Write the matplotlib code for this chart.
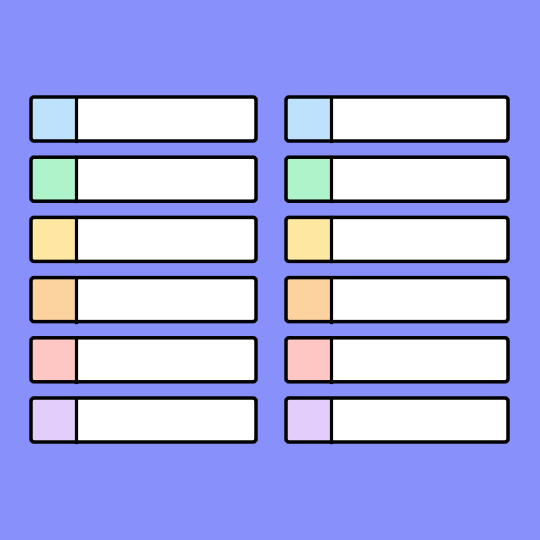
import matplotlib
matplotlib.use("Agg")
import matplotlib.pyplot as plt
from matplotlib.patches import FancyBboxPatch, Rectangle

rows = ["blue", "green", "yellow", "orange", "red", "purple"]
swatch_colors = ["#BEE1FC", "#AEF3C9", "#FEE8A1", "#FCD39F", "#FEC7C4", "#E3CDFB"]
columns = ["left", "right"]

BG = "#8891FB"
col_x = [31, 286]
col_w = [225, 222]
row_y0, row_step, row_h = 97, 60.2, 44
sw_w = 45

fig = plt.figure(figsize=(5.4, 5.4), dpi=100, facecolor=BG)
ax = fig.add_axes([0, 0, 1, 1])
ax.set_xlim(0, 540)
ax.set_ylim(540, 0)
ax.set_facecolor(BG)
ax.axis("off")

for ci, _ in enumerate(columns):
    for ri, color in enumerate(swatch_colors):
        x = col_x[ci]
        y = row_y0 + ri * row_step
        w = col_w[ci]
        box = FancyBboxPatch((x, y), w, row_h, boxstyle="round,pad=0,rounding_size=3",
                             facecolor="white", edgecolor="none", zorder=1)
        ax.add_patch(box)
        ax.add_patch(Rectangle((x, y), sw_w, row_h, facecolor=color, edgecolor="none", zorder=2))
        ax.plot([x + sw_w, x + sw_w], [y, y + row_h], color="black", lw=2.3, zorder=3)
        border = FancyBboxPatch((x, y), w, row_h, boxstyle="round,pad=0,rounding_size=3",
                                facecolor="none", edgecolor="black", lw=2.5, zorder=4)
        ax.add_patch(border)

fig.savefig("out.png", dpi=100, facecolor=BG)
